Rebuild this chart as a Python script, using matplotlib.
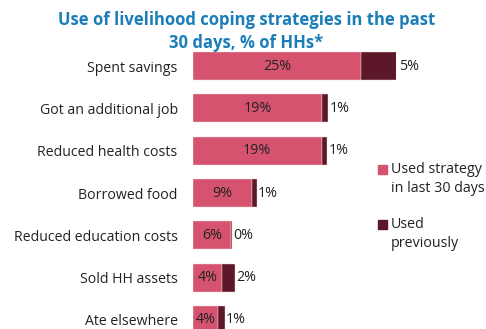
import matplotlib.pyplot as plt
from matplotlib.patches import Rectangle

plt.rcParams['font.family'] = ['Open Sans', 'DejaVu Sans']

strategies = [
    "Spent savings",
    "Got an additional job",
    "Reduced health costs",
    "Borrowed food",
    "Reduced education costs",
    "Sold HH assets",
    "Ate elsewhere",
]
used_last_30 = [24.8, 19.1, 19.0, 8.7, 5.6, 4.3, 3.7]
used_before = [5.4, 0.9, 0.8, 0.7, 0.2, 1.9, 1.0]
legend_labels = ["Used strategy\nin last 30 days", "Used\npreviously"]

pink = "#d6536f"
dark = "#5c1728"
text_col = "#222222"
W, H = 486, 329

fig = plt.figure(figsize=(W / 100, H / 100), dpi=100)
ax = fig.add_axes([193 / W, -12 / H, 203 / W, 296 / H])

ypos = list(range(len(strategies)))
ax.barh(ypos, used_last_30, height=0.66, color=pink, edgecolor="#f4d6dc", linewidth=0.3)
ax.barh(ypos, used_before, left=used_last_30, height=0.66, color=dark,
        edgecolor="#f4d6dc", linewidth=0.3)

for y, a, b in zip(ypos, used_last_30, used_before):
    ax.text(a / 2, y, f"{a:.0f}%", ha="center", va="center", fontsize=10.3, color=text_col)
    ax.text(a + b + 0.2, y, f"{b:.0f}%", ha="left", va="center", fontsize=10.3,
            color=text_col, clip_on=False)

ax.set_xlim(0, 30)
ax.set_ylim(6.5, -0.5)
ax.set_yticks(ypos)
ax.set_yticklabels(strategies, fontsize=10.2, color=text_col)
ax.tick_params(axis="y", length=0, pad=11)
ax.set_xticks([])
for s in ax.spines.values():
    s.set_visible(False)

fig.text(0.507, 1 - 31.5 / H, "Use of livelihood coping strategies in the past\n30 days, % of HHs*",
         ha="center", va="center", fontsize=12, fontweight="bold", color="#1a7db8",
         linespacing=1.35)

# legend drawn by hand so the swatch sits on the first line of each label
for label, col, top in zip(legend_labels, [pink, dark], [169, 224]):
    fig.patches.append(Rectangle((378 / W, 1 - (top + 4.5) / H), 9 / W, 9 / H,
                                 color=col, transform=fig.transFigure))
    fig.text(391 / W, 1 - (top + 10) / H, label, ha="left", va="center",
             fontsize=10.3, color=text_col, linespacing=1.4)

fig.savefig("out.png", dpi=100)
